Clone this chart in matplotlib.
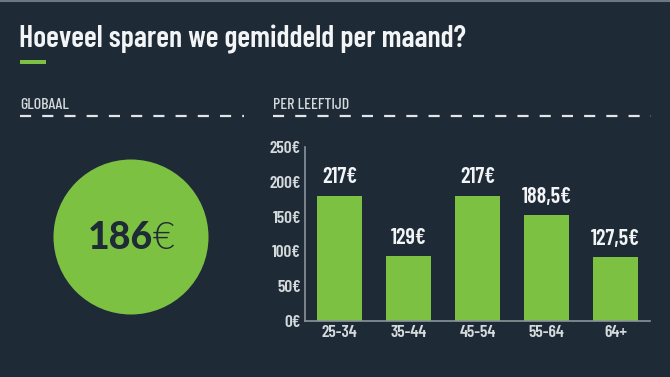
import matplotlib
matplotlib.use("Agg")
import matplotlib.pyplot as plt
from matplotlib.patches import Circle, Rectangle

# --- Data ---
age_groups = ['25-34', '35-44', '45-54', '55-64', '64+']
bar_heights = [180, 93, 180, 152, 91.5]          # heights as drawn on the axis
bar_labels = ['217€', '129€', '217€', '188,5€', '127,5€']
y_ticks = [0, 50, 100, 150, 200, 250]
global_value = '186'

# --- Style ---
BG = '#1e2a36'
GREEN = '#7dc142'
WHITE = '#f2f4f5'
GREY = '#d5dadd'
AXIS = '#8b949c'
COND = ['Barlow Condensed', 'Roboto Condensed', 'DejaVu Sans']
ROUND = ['Lato', 'DejaVu Sans']

W, H = 670, 377
fig = plt.figure(figsize=(W / 100, H / 100), dpi=100)
fig.patch.set_facecolor(BG)

# overlay in pixel coordinates
ov = fig.add_axes([0, 0, 1, 1])
ov.set_xlim(0, W)
ov.set_ylim(H, 0)
ov.axis('off')
ov.patch.set_alpha(0)

ov.add_line(plt.Line2D([0, W], [0.5, 0.5], color='#6c7780', lw=1.5))
ov.text(19, 47.5, 'Hoeveel sparen we gemiddeld per maand?', color=WHITE,
        fontsize=21.5, fontweight=600, family=COND, va='baseline', ha='left')
ov.add_patch(Rectangle((20, 59.5), 26, 4.5, color=GREEN, lw=0))

for x0, x1, label in [(20, 244, 'GLOBAAL'), (273, 651, 'PER LEEFTIJD')]:
    ov.text(x0, 109, label, color=GREY, fontsize=11.5, fontweight=500,
            family=COND, va='baseline', ha='left')
    ov.plot([x0, x1], [116, 116], color='#e3e6e8', lw=1.6,
            dashes=(5, 5), solid_capstyle='butt', dash_capstyle='butt')

# global circle
ov.add_patch(Circle((131, 237), 77.5, color=GREEN, lw=0))
ov.text(153, 249, global_value, color=BG, fontsize=27, fontweight=900,
        family=ROUND, ha='right', va='baseline')
ov.text(153, 249, '€', color=BG, fontsize=27, fontweight=300,
        family=ROUND, ha='left', va='baseline')

# bar chart
ax = fig.add_axes([305 / W, 1 - 321 / H, (650 - 305) / W, (321 - 147) / H])
ax.set_facecolor('none')
x = range(len(age_groups))
bars = ax.bar(x, bar_heights, width=0.64, color=GREEN)
ax.set_xlim(-0.5, 4.5)
ax.set_ylim(0, 250)
ax.set_yticks(y_ticks)
ax.set_yticklabels([f'{v}€' for v in y_ticks])
ax.set_xticks(list(x))
ax.set_xticklabels(age_groups)
for s in ['top', 'right']:
    ax.spines[s].set_visible(False)
for s in ['left', 'bottom']:
    ax.spines[s].set_color(AXIS)
    ax.spines[s].set_linewidth(1.2)
ax.tick_params(length=0, colors=GREY, labelsize=12.5, pad=3)
for t in ax.get_xticklabels() + ax.get_yticklabels():
    t.set_family(COND)
    t.set_fontweight(600)

for b, lab in zip(bars, bar_labels):
    ax.annotate(lab, (b.get_x() + b.get_width() / 2, b.get_height()),
                xytext=(0, 6), textcoords='offset points', ha='center',
                va='bottom', color=WHITE, fontsize=16, fontweight=600,
                family=COND)

fig.savefig('out.png', dpi=100, facecolor=BG)
